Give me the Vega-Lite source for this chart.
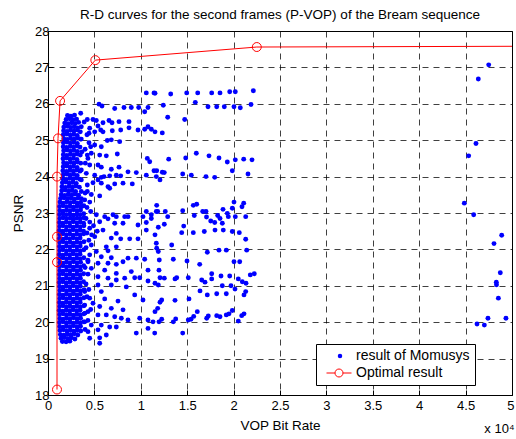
{
"$schema": "https://vega.github.io/schema/vega-lite/v6.json",
"width": 464, "height": 364,
"autosize": {"type": "none"},
"padding": {"left": 48, "top": 31, "right": 4, "bottom": 44},
"background": "white",
"title": {"text": "R-D curves for the second frames (P-VOP) of the Bream sequence", "fontSize": 13.5, "fontWeight": "normal", "font": "Liberation Sans", "color": "#000", "offset": 4},
"config": {"font": "Liberation Sans", "view": {"stroke": "#000", "strokeWidth": 1}},
"datasets": {
"optimal": [
{"rate": 970, "psnr": 18.15}, {"rate": 970, "psnr": 21.65}, {"rate": 970, "psnr": 22.35}, {"rate": 970, "psnr": 24.0},
{"rate": 1080, "psnr": 25.05}, {"rate": 1300, "psnr": 26.08}, {"rate": 5100, "psnr": 27.2}, {"rate": 22500, "psnr": 27.56}, {"rate": 50000, "psnr": 27.58}
],
"momusys": [
{"rate":22123,"psnr":26.36},{"rate":11530,"psnr":26.29},{"rate":13222,"psnr":26.27},{"rate":14946,"psnr":26.30},{"rate":16132,"psnr":26.30},{"rate":17640,"psnr":26.30},{"rate":18535,"psnr":26.30},{"rate":19580,"psnr":26.33},{"rate":20183,"psnr":26.33},{"rate":12425,"psnr":25.96},{"rate":15873,"psnr":26.04},{"rate":17242,"psnr":25.92},{"rate":18179,"psnr":25.92},{"rate":18998,"psnr":25.92},{"rate":20043,"psnr":25.92},{"rate":20722,"psnr":25.89},{"rate":21875,"psnr":25.98},{"rate":12899,"psnr":25.63},{"rate":14731,"psnr":25.57},{"rate":11530,"psnr":25.23},{"rate":12317,"psnr":25.20},{"rate":13007,"psnr":24.48},{"rate":14838,"psnr":24.51},{"rate":15981,"psnr":24.64},{"rate":17349,"psnr":24.57},{"rate":18427,"psnr":24.51},{"rate":19321,"psnr":24.40},{"rate":20183,"psnr":24.46},{"rate":21089,"psnr":24.48},{"rate":21983,"psnr":24.46},{"rate":11713,"psnr":24.16},{"rate":12317,"psnr":24.12},{"rate":12532,"psnr":24.11},{"rate":12069,"psnr":23.91},{"rate":14515,"psnr":24.07},{"rate":15442,"psnr":24.04},{"rate":17026,"psnr":24.00},{"rate":17964,"psnr":23.98},{"rate":19860,"psnr":24.16},{"rate":21552,"psnr":24.07},
{"rate":11713,"psnr":23.21},{"rate":11821,"psnr":23.04},{"rate":12640,"psnr":23.04},{"rate":12899,"psnr":22.90},{"rate":14515,"psnr":23.06},{"rate":15658,"psnr":23.21},{"rate":16024,"psnr":23.24},{"rate":15765,"psnr":22.93},{"rate":16671,"psnr":23.04},{"rate":17026,"psnr":23.04},{"rate":17080,"psnr":22.89},{"rate":18287,"psnr":22.93},{"rate":18858,"psnr":23.10},{"rate":19321,"psnr":22.99},{"rate":19429,"psnr":22.90},{"rate":19860,"psnr":23.13},{"rate":20043,"psnr":23.30},{"rate":20183,"psnr":22.90},{"rate":20905,"psnr":23.17},{"rate":21089,"psnr":23.27},{"rate":21304,"psnr":22.90},
{"rate":17533,"psnr":22.78},{"rate":17964,"psnr":22.74},{"rate":18535,"psnr":22.85},{"rate":18783,"psnr":22.72},{"rate":12532,"psnr":22.69},{"rate":11886,"psnr":22.61},{"rate":14623,"psnr":22.64},{"rate":14408,"psnr":22.46},{"rate":15658,"psnr":22.46},{"rate":16843,"psnr":22.49},{"rate":17996,"psnr":22.53},{"rate":18890,"psnr":22.53},{"rate":19860,"psnr":22.49},{"rate":20614,"psnr":22.46},{"rate":21304,"psnr":22.28},{"rate":11530,"psnr":22.40},{"rate":13330,"psnr":22.12},{"rate":11713,"psnr":22.03},{"rate":11886,"psnr":21.94},{"rate":18427,"psnr":21.98},{"rate":19214,"psnr":21.98},{"rate":17166,"psnr":21.92},{"rate":21412,"psnr":21.98},{"rate":11994,"psnr":21.71},{"rate":13502,"psnr":21.73},{"rate":14979,"psnr":21.68},{"rate":16347,"psnr":21.59},{"rate":20043,"psnr":21.66},{"rate":20658,"psnr":21.66},{"rate":11961,"psnr":21.43},{"rate":12069,"psnr":21.22},{"rate":12532,"psnr":21.21},{"rate":13686,"psnr":21.19},{"rate":13869,"psnr":21.22},{"rate":15119,"psnr":21.22},{"rate":16563,"psnr":21.16},{"rate":16918,"psnr":21.10},{"rate":17640,"psnr":21.19},{"rate":17640,"psnr":21.33},{"rate":18643,"psnr":21.27},{"rate":19580,"psnr":21.27},{"rate":20507,"psnr":21.19},{"rate":20938,"psnr":21.11},{"rate":21337,"psnr":21.07},{"rate":21800,"psnr":21.30},{"rate":22231,"psnr":21.33},{"rate":11886,"psnr":21.02},{"rate":11530,"psnr":21.07},{"rate":16380,"psnr":20.86},{"rate":17166,"psnr":20.75},{"rate":18179,"psnr":20.78},{"rate":18783,"psnr":21.00},{"rate":19214,"psnr":20.78},{"rate":19720,"psnr":21.00},{"rate":20151,"psnr":20.91},{"rate":21121,"psnr":20.75},{"rate":21304,"psnr":20.84},{"rate":12252,"psnr":20.61},{"rate":12069,"psnr":20.55},{"rate":13686,"psnr":20.60},{"rate":15194,"psnr":20.64},{"rate":11821,"psnr":20.38},{"rate":11530,"psnr":20.29},{"rate":12252,"psnr":20.08},{"rate":13502,"psnr":20.01},{"rate":13761,"psnr":20.09},{"rate":15119,"psnr":20.06},{"rate":15410,"psnr":20.08},{"rate":15700,"psnr":20.16},{"rate":16088,"psnr":20.29},{"rate":17101,"psnr":20.11},{"rate":17274,"psnr":20.17},{"rate":18179,"psnr":20.18},{"rate":18535,"psnr":20.15},{"rate":19214,"psnr":20.20},{"rate":19505,"psnr":20.23},{"rate":19860,"psnr":20.32},{"rate":20507,"psnr":20.03},{"rate":20873,"psnr":20.18},{"rate":21121,"psnr":20.23},{"rate":14515,"psnr":19.70},{"rate":11961,"psnr":20.01},
{"rate":10593,"psnr":26.30},{"rate":11423,"psnr":26.30},{"rate":5496,"psnr":25.99},{"rate":5819,"psnr":25.94},{"rate":7188,"psnr":25.87},{"rate":8190,"psnr":25.90},{"rate":8976,"psnr":25.90},{"rate":9774,"psnr":25.90},{"rate":10420,"psnr":25.78},{"rate":10776,"psnr":25.90},{"rate":3524,"psnr":25.74},{"rate":4235,"psnr":25.57},{"rate":4849,"psnr":25.57},{"rate":5205,"psnr":25.54},{"rate":5927,"psnr":25.48},{"rate":6573,"psnr":25.54},{"rate":6897,"psnr":25.48},{"rate":7651,"psnr":25.51},{"rate":8729,"psnr":25.51},{"rate":3588,"psnr":25.37},{"rate":4494,"psnr":25.33},{"rate":5388,"psnr":25.39},{"rate":5679,"psnr":25.28},{"rate":4418,"psnr":25.19},{"rate":5032,"psnr":25.23},{"rate":5927,"psnr":25.23},{"rate":6929,"psnr":25.26},{"rate":7834,"psnr":25.28},{"rate":8729,"psnr":25.34},{"rate":9698,"psnr":25.28},{"rate":10420,"psnr":25.30},{"rate":11132,"psnr":25.30},{"rate":10776,"psnr":25.37},{"rate":3588,"psnr":25.03},{"rate":4418,"psnr":24.93},{"rate":4601,"psnr":24.82},{"rate":5032,"psnr":24.87},{"rate":5744,"psnr":24.82},{"rate":6390,"psnr":24.99},{"rate":6821,"psnr":25.01},{"rate":7726,"psnr":24.96},{"rate":3664,"psnr":24.68},{"rate":4235,"psnr":24.59},{"rate":4666,"psnr":24.64},{"rate":5571,"psnr":24.59},{"rate":6282,"psnr":24.57},{"rate":7468,"psnr":24.62},{"rate":10701,"psnr":24.50},{"rate":10959,"psnr":24.41},{"rate":4020,"psnr":24.37},{"rate":4494,"psnr":24.32},{"rate":5388,"psnr":24.32},{"rate":5744,"psnr":24.26},{"rate":6821,"psnr":24.20},{"rate":7651,"psnr":24.26},{"rate":3588,"psnr":24.18},{"rate":4127,"psnr":24.09},{"rate":5032,"psnr":24.04},{"rate":5744,"psnr":23.98},{"rate":6035,"psnr":24.00},{"rate":6649,"psnr":24.02},{"rate":7360,"psnr":24.04},{"rate":7834,"psnr":24.02},{"rate":8621,"psnr":24.13},{"rate":9515,"psnr":24.11},{"rate":10593,"psnr":24.04},{"rate":11423,"psnr":24.16},{"rate":11670,"psnr":24.00},{"rate":3588,"psnr":23.91},{"rate":4235,"psnr":23.77},{"rate":4849,"psnr":23.83},{"rate":5388,"psnr":23.91},{"rate":5744,"psnr":23.82},{"rate":6466,"psnr":23.72},{"rate":7188,"psnr":23.80},{"rate":8082,"psnr":23.82},{"rate":9084,"psnr":23.80},{"rate":6649,"psnr":23.68},{"rate":3588,"psnr":23.59},{"rate":4235,"psnr":23.59},{"rate":4666,"psnr":23.51},{"rate":5571,"psnr":23.47},{"rate":3955,"psnr":23.36},{"rate":3588,"psnr":23.17},{"rate":4601,"psnr":23.04},{"rate":5205,"psnr":22.95},{"rate":6110,"psnr":22.90},{"rate":7004,"psnr":22.95},{"rate":7360,"psnr":22.90},{"rate":8265,"psnr":22.90},{"rate":10593,"psnr":23.04},{"rate":11132,"psnr":22.95},{"rate":11670,"psnr":23.04},
{"rate":8621,"psnr":22.90},{"rate":10237,"psnr":22.90},{"rate":5571,"psnr":22.76},{"rate":6466,"psnr":22.84},{"rate":7188,"psnr":22.72},{"rate":8082,"psnr":22.72},{"rate":9698,"psnr":22.67},{"rate":10593,"psnr":22.74},{"rate":11132,"psnr":22.85},{"rate":4494,"psnr":22.58},{"rate":5927,"psnr":22.53},{"rate":7360,"psnr":22.44},{"rate":10593,"psnr":22.53},{"rate":5032,"psnr":22.35},{"rate":6821,"psnr":22.31},{"rate":7834,"psnr":22.29},{"rate":8804,"psnr":22.29},{"rate":9698,"psnr":22.29},{"rate":11670,"psnr":22.17},{"rate":4666,"psnr":22.12},{"rate":6282,"psnr":22.07},{"rate":7360,"psnr":22.07},{"rate":5205,"psnr":21.94},{"rate":6466,"psnr":21.96},{"rate":4494,"psnr":21.85},{"rate":5744,"psnr":21.80},{"rate":6821,"psnr":21.77},{"rate":8621,"psnr":21.76},{"rate":9515,"psnr":21.76},{"rate":10420,"psnr":21.73},{"rate":4310,"psnr":21.66},{"rate":5388,"psnr":21.62},{"rate":6466,"psnr":21.62},{"rate":7360,"psnr":21.59},{"rate":8082,"psnr":21.66},{"rate":4666,"psnr":21.48},{"rate":6110,"psnr":21.43},{"rate":7360,"psnr":21.34},{"rate":8976,"psnr":21.39},{"rate":10776,"psnr":21.43},{"rate":4310,"psnr":21.32},{"rate":5388,"psnr":21.25},{"rate":6466,"psnr":21.21},{"rate":7360,"psnr":21.16},{"rate":8265,"psnr":21.21},{"rate":9343,"psnr":21.22},{"rate":9882,"psnr":21.22},{"rate":10776,"psnr":21.13},{"rate":5388,"psnr":21.02},{"rate":6821,"psnr":21.02},{"rate":8438,"psnr":20.97},{"rate":3955,"psnr":20.84},{"rate":5744,"psnr":20.84},{"rate":9343,"psnr":20.75},{"rate":4494,"psnr":20.66},{"rate":6110,"psnr":20.64},{"rate":7543,"psnr":20.58},{"rate":10237,"psnr":20.61},{"rate":3955,"psnr":20.47},{"rate":4849,"psnr":20.52},{"rate":5571,"psnr":20.43},{"rate":6821,"psnr":20.38},{"rate":8082,"psnr":20.34},{"rate":4310,"psnr":20.29},{"rate":5388,"psnr":20.20},{"rate":6282,"psnr":20.20},{"rate":7188,"psnr":20.15},{"rate":7899,"psnr":20.11},{"rate":8621,"psnr":20.06},{"rate":9882,"psnr":20.11},{"rate":10776,"psnr":20.06},{"rate":11315,"psnr":20.01},{"rate":3955,"psnr":20.01},{"rate":4666,"psnr":19.92},{"rate":5744,"psnr":19.92},{"rate":6649,"psnr":19.87},{"rate":7360,"psnr":19.87},{"rate":9515,"psnr":19.70},{"rate":10776,"psnr":19.83},{"rate":11498,"psnr":19.70},{"rate":4310,"psnr":19.74},{"rate":5388,"psnr":19.79},{"rate":4494,"psnr":19.56},{"rate":5571,"psnr":19.57},{"rate":6282,"psnr":19.65},{"rate":5571,"psnr":19.42},
{"rate":4100,"psnr":22.85},{"rate":4500,"psnr":22.75},{"rate":4900,"psnr":22.65},{"rate":4200,"psnr":22.45},{"rate":4700,"psnr":22.40},{"rate":5300,"psnr":22.50},{"rate":4400,"psnr":22.25},{"rate":4100,"psnr":22.05},{"rate":4300,"psnr":21.70},{"rate":4000,"psnr":21.50},{"rate":4100,"psnr":21.05},{"rate":4400,"psnr":20.90},{"rate":4200,"psnr":20.70},{"rate":4600,"psnr":20.35},{"rate":4000,"psnr":20.25},{"rate":4300,"psnr":20.05},{"rate":4000,"psnr":19.80},{"rate":4200,"psnr":23.15},{"rate":4500,"psnr":23.30},{"rate":4000,"psnr":23.55},{"rate":4300,"psnr":24.50},{"rate":4000,"psnr":24.75},{"rate":4200,"psnr":25.15},{"rate":3900,"psnr":25.50},
{"rate":47490,"psnr":27.07},{"rate":46370,"psnr":26.68},{"rate":46120,"psnr":24.91},{"rate":45330,"psnr":24.57},{"rate":44860,"psnr":23.27},{"rate":45870,"psnr":22.95},{"rate":48890,"psnr":22.39},{"rate":48060,"psnr":22.16},{"rate":48740,"psnr":21.36},{"rate":48310,"psnr":21.10},{"rate":48330,"psnr":21.03},{"rate":48530,"psnr":20.66},{"rate":47410,"psnr":20.11},{"rate":49350,"psnr":20.11},{"rate":46230,"psnr":19.95},{"rate":47020,"psnr":19.92},
{"rate":2100,"psnr":25.68},{"rate":2470,"psnr":25.66},{"rate":2860,"psnr":25.69},
{"rate":1950,"psnr":25.57},{"rate":2340,"psnr":25.59},{"rate":2700,"psnr":25.56},{"rate":3080,"psnr":25.58},
{"rate":1800,"psnr":25.47},{"rate":2190,"psnr":25.45},{"rate":2560,"psnr":25.48},{"rate":2940,"psnr":25.46},{"rate":3300,"psnr":25.49},
{"rate":1700,"psnr":25.36},{"rate":2080,"psnr":25.38},{"rate":2450,"psnr":25.35},{"rate":2830,"psnr":25.37},{"rate":3200,"psnr":25.34},
{"rate":1680,"psnr":25.26},{"rate":2050,"psnr":25.24},{"rate":2420,"psnr":25.27},{"rate":2800,"psnr":25.25},{"rate":3170,"psnr":25.28},{"rate":3480,"psnr":25.23},
{"rate":1650,"psnr":25.15},{"rate":2030,"psnr":25.17},{"rate":2400,"psnr":25.14},{"rate":2780,"psnr":25.16},{"rate":3150,"psnr":25.13},
{"rate":1700,"psnr":25.04},{"rate":2070,"psnr":25.02},{"rate":2440,"psnr":25.05},{"rate":2820,"psnr":25.03},{"rate":3190,"psnr":25.06},{"rate":3500,"psnr":25.03},
{"rate":1660,"psnr":24.93},{"rate":2040,"psnr":24.95},{"rate":2410,"psnr":24.92},{"rate":2790,"psnr":24.94},{"rate":3160,"psnr":24.91},
{"rate":1640,"psnr":24.82},{"rate":2010,"psnr":24.80},{"rate":2390,"psnr":24.83},{"rate":2760,"psnr":24.81},{"rate":3140,"psnr":24.84},{"rate":3450,"psnr":24.81},
{"rate":1690,"psnr":24.71},{"rate":2060,"psnr":24.73},{"rate":2430,"psnr":24.70},{"rate":2810,"psnr":24.72},{"rate":3180,"psnr":24.69},
{"rate":1650,"psnr":24.60},{"rate":2020,"psnr":24.58},{"rate":2400,"psnr":24.61},{"rate":2770,"psnr":24.59},{"rate":3150,"psnr":24.62},{"rate":3480,"psnr":24.59},
{"rate":1620,"psnr":24.49},{"rate":2000,"psnr":24.51},{"rate":2370,"psnr":24.48},{"rate":2750,"psnr":24.50},{"rate":3120,"psnr":24.47},
{"rate":1680,"psnr":24.38},{"rate":2050,"psnr":24.36},{"rate":2430,"psnr":24.39},{"rate":2800,"psnr":24.37},{"rate":3170,"psnr":24.40},{"rate":3520,"psnr":24.37},
{"rate":1640,"psnr":24.27},{"rate":2010,"psnr":24.29},{"rate":2390,"psnr":24.26},{"rate":2760,"psnr":24.28},{"rate":3140,"psnr":24.25},
{"rate":1600,"psnr":24.16},{"rate":1980,"psnr":24.14},{"rate":2350,"psnr":24.17},{"rate":2730,"psnr":24.15},{"rate":3100,"psnr":24.18},{"rate":3450,"psnr":24.15},
{"rate":1650,"psnr":24.05},{"rate":2030,"psnr":24.07},{"rate":2400,"psnr":24.04},{"rate":2780,"psnr":24.06},{"rate":3150,"psnr":24.03},
{"rate":1580,"psnr":23.94},{"rate":1960,"psnr":23.92},{"rate":2330,"psnr":23.95},{"rate":2710,"psnr":23.93},{"rate":3080,"psnr":23.96},{"rate":3420,"psnr":23.93},
{"rate":1550,"psnr":23.83},{"rate":1930,"psnr":23.85},{"rate":2300,"psnr":23.82},{"rate":2680,"psnr":23.84},{"rate":3050,"psnr":23.81},
{"rate":1500,"psnr":23.72},{"rate":1880,"psnr":23.70},{"rate":2260,"psnr":23.73},{"rate":2640,"psnr":23.71},{"rate":3010,"psnr":23.74},{"rate":3380,"psnr":23.71},
{"rate":1480,"psnr":23.61},{"rate":1850,"psnr":23.63},{"rate":2230,"psnr":23.60},{"rate":2600,"psnr":23.62},{"rate":2980,"psnr":23.59},
{"rate":1420,"psnr":23.50},{"rate":1800,"psnr":23.48},{"rate":2170,"psnr":23.51},{"rate":2550,"psnr":23.49},{"rate":2920,"psnr":23.52},{"rate":3300,"psnr":23.49},
{"rate":1350,"psnr":23.40},{"rate":1730,"psnr":23.42},{"rate":2100,"psnr":23.39},{"rate":2480,"psnr":23.41},{"rate":2860,"psnr":23.38},{"rate":3230,"psnr":23.41},{"rate":3600,"psnr":23.39},
{"rate":1280,"psnr":23.30},{"rate":1650,"psnr":23.27},{"rate":2030,"psnr":23.31},{"rate":2400,"psnr":23.28},{"rate":2780,"psnr":23.30},{"rate":3150,"psnr":23.27},{"rate":3530,"psnr":23.29},
{"rate":1230,"psnr":23.18},{"rate":1610,"psnr":23.20},{"rate":1980,"psnr":23.17},{"rate":2360,"psnr":23.19},{"rate":2730,"psnr":23.16},{"rate":3110,"psnr":23.19},{"rate":3480,"psnr":23.18},{"rate":3860,"psnr":23.20},
{"rate":1260,"psnr":23.07},{"rate":1640,"psnr":23.05},{"rate":2010,"psnr":23.08},{"rate":2390,"psnr":23.06},{"rate":2760,"psnr":23.09},{"rate":3140,"psnr":23.06},{"rate":3510,"psnr":23.08},
{"rate":1220,"psnr":22.96},{"rate":1600,"psnr":22.98},{"rate":1970,"psnr":22.95},{"rate":2350,"psnr":22.97},{"rate":2720,"psnr":22.94},{"rate":3100,"psnr":22.97},{"rate":3470,"psnr":22.95},{"rate":3850,"psnr":22.98},
{"rate":1250,"psnr":22.85},{"rate":1630,"psnr":22.87},{"rate":2000,"psnr":22.84},{"rate":2380,"psnr":22.86},{"rate":2750,"psnr":22.83},{"rate":3130,"psnr":22.86},{"rate":3500,"psnr":22.84},{"rate":3880,"psnr":22.87},
{"rate":1210,"psnr":22.74},{"rate":1590,"psnr":22.72},{"rate":1960,"psnr":22.75},{"rate":2340,"psnr":22.73},{"rate":2710,"psnr":22.76},{"rate":3090,"psnr":22.73},{"rate":3460,"psnr":22.75},{"rate":3840,"psnr":22.72},
{"rate":1240,"psnr":22.63},{"rate":1620,"psnr":22.65},{"rate":1990,"psnr":22.62},{"rate":2370,"psnr":22.64},{"rate":2740,"psnr":22.61},{"rate":3120,"psnr":22.64},{"rate":3490,"psnr":22.62},{"rate":3870,"psnr":22.65},
{"rate":1200,"psnr":22.52},{"rate":1580,"psnr":22.50},{"rate":1950,"psnr":22.53},{"rate":2330,"psnr":22.51},{"rate":2700,"psnr":22.54},{"rate":3080,"psnr":22.51},{"rate":3450,"psnr":22.53},{"rate":3830,"psnr":22.50},
{"rate":1230,"psnr":22.41},{"rate":1610,"psnr":22.43},{"rate":1980,"psnr":22.40},{"rate":2360,"psnr":22.42},{"rate":2730,"psnr":22.39},{"rate":3110,"psnr":22.42},{"rate":3480,"psnr":22.40},{"rate":3860,"psnr":22.43},
{"rate":1210,"psnr":22.30},{"rate":1590,"psnr":22.28},{"rate":1960,"psnr":22.31},{"rate":2340,"psnr":22.29},{"rate":2710,"psnr":22.32},{"rate":3090,"psnr":22.29},{"rate":3460,"psnr":22.31},
{"rate":1250,"psnr":22.19},{"rate":1630,"psnr":22.21},{"rate":2000,"psnr":22.18},{"rate":2380,"psnr":22.20},{"rate":2750,"psnr":22.17},{"rate":3130,"psnr":22.20},{"rate":3500,"psnr":22.18},{"rate":3880,"psnr":22.21},
{"rate":1220,"psnr":22.08},{"rate":1600,"psnr":22.06},{"rate":1970,"psnr":22.09},{"rate":2350,"psnr":22.07},{"rate":2720,"psnr":22.10},{"rate":3100,"psnr":22.07},{"rate":3470,"psnr":22.09},
{"rate":1240,"psnr":21.97},{"rate":1620,"psnr":21.99},{"rate":1990,"psnr":21.96},{"rate":2370,"psnr":21.98},{"rate":2740,"psnr":21.95},{"rate":3120,"psnr":21.98},{"rate":3490,"psnr":21.96},{"rate":3870,"psnr":21.99},
{"rate":1200,"psnr":21.86},{"rate":1580,"psnr":21.84},{"rate":1950,"psnr":21.87},{"rate":2330,"psnr":21.85},{"rate":2700,"psnr":21.88},{"rate":3080,"psnr":21.85},{"rate":3450,"psnr":21.87},
{"rate":1230,"psnr":21.75},{"rate":1610,"psnr":21.77},{"rate":1980,"psnr":21.74},{"rate":2360,"psnr":21.76},{"rate":2730,"psnr":21.73},{"rate":3110,"psnr":21.76},{"rate":3480,"psnr":21.74},{"rate":3860,"psnr":21.77},
{"rate":1260,"psnr":21.64},{"rate":1640,"psnr":21.62},{"rate":2010,"psnr":21.65},{"rate":2390,"psnr":21.63},{"rate":2760,"psnr":21.66},{"rate":3140,"psnr":21.63},{"rate":3510,"psnr":21.65},
{"rate":1220,"psnr":21.53},{"rate":1600,"psnr":21.55},{"rate":1970,"psnr":21.52},{"rate":2350,"psnr":21.54},{"rate":2720,"psnr":21.51},{"rate":3100,"psnr":21.54},{"rate":3470,"psnr":21.52},{"rate":3850,"psnr":21.55},
{"rate":1250,"psnr":21.42},{"rate":1630,"psnr":21.40},{"rate":2000,"psnr":21.43},{"rate":2380,"psnr":21.41},{"rate":2750,"psnr":21.44},{"rate":3130,"psnr":21.41},{"rate":3500,"psnr":21.43},
{"rate":1210,"psnr":21.31},{"rate":1590,"psnr":21.33},{"rate":1960,"psnr":21.30},{"rate":2340,"psnr":21.32},{"rate":2710,"psnr":21.29},{"rate":3090,"psnr":21.32},{"rate":3460,"psnr":21.30},{"rate":3840,"psnr":21.33},
{"rate":1240,"psnr":21.20},{"rate":1620,"psnr":21.18},{"rate":1990,"psnr":21.21},{"rate":2370,"psnr":21.19},{"rate":2740,"psnr":21.22},{"rate":3120,"psnr":21.19},{"rate":3490,"psnr":21.21},
{"rate":1200,"psnr":21.09},{"rate":1580,"psnr":21.11},{"rate":1950,"psnr":21.08},{"rate":2330,"psnr":21.10},{"rate":2700,"psnr":21.07},{"rate":3080,"psnr":21.10},{"rate":3450,"psnr":21.08},{"rate":3830,"psnr":21.11},
{"rate":1230,"psnr":20.98},{"rate":1610,"psnr":20.96},{"rate":1980,"psnr":20.99},{"rate":2360,"psnr":20.97},{"rate":2730,"psnr":21.00},{"rate":3110,"psnr":20.97},{"rate":3480,"psnr":20.99},
{"rate":1260,"psnr":20.87},{"rate":1640,"psnr":20.89},{"rate":2010,"psnr":20.86},{"rate":2390,"psnr":20.88},{"rate":2760,"psnr":20.85},{"rate":3140,"psnr":20.88},{"rate":3510,"psnr":20.86},{"rate":3890,"psnr":20.89},
{"rate":1220,"psnr":20.76},{"rate":1600,"psnr":20.74},{"rate":1970,"psnr":20.77},{"rate":2350,"psnr":20.75},{"rate":2720,"psnr":20.78},{"rate":3100,"psnr":20.75},{"rate":3470,"psnr":20.77},
{"rate":1250,"psnr":20.65},{"rate":1630,"psnr":20.67},{"rate":2000,"psnr":20.64},{"rate":2380,"psnr":20.66},{"rate":2750,"psnr":20.63},{"rate":3130,"psnr":20.66},{"rate":3500,"psnr":20.64},{"rate":3880,"psnr":20.67},
{"rate":1210,"psnr":20.54},{"rate":1590,"psnr":20.52},{"rate":1960,"psnr":20.55},{"rate":2340,"psnr":20.53},{"rate":2710,"psnr":20.56},{"rate":3090,"psnr":20.53},{"rate":3460,"psnr":20.55},
{"rate":1240,"psnr":20.43},{"rate":1620,"psnr":20.45},{"rate":1990,"psnr":20.42},{"rate":2370,"psnr":20.44},{"rate":2740,"psnr":20.41},{"rate":3120,"psnr":20.44},{"rate":3490,"psnr":20.42},{"rate":3870,"psnr":20.45},
{"rate":1200,"psnr":20.32},{"rate":1580,"psnr":20.30},{"rate":1950,"psnr":20.33},{"rate":2330,"psnr":20.31},{"rate":2700,"psnr":20.34},{"rate":3080,"psnr":20.31},{"rate":3450,"psnr":20.33},
{"rate":1230,"psnr":20.21},{"rate":1610,"psnr":20.23},{"rate":1980,"psnr":20.20},{"rate":2360,"psnr":20.22},{"rate":2730,"psnr":20.19},{"rate":3110,"psnr":20.22},{"rate":3480,"psnr":20.20},{"rate":3860,"psnr":20.23},
{"rate":1260,"psnr":20.10},{"rate":1640,"psnr":20.08},{"rate":2010,"psnr":20.11},{"rate":2390,"psnr":20.09},{"rate":2760,"psnr":20.12},{"rate":3140,"psnr":20.09},{"rate":3510,"psnr":20.11},
{"rate":1220,"psnr":19.99},{"rate":1600,"psnr":20.01},{"rate":1970,"psnr":19.98},{"rate":2350,"psnr":20.00},{"rate":2720,"psnr":19.97},{"rate":3100,"psnr":20.00},{"rate":3470,"psnr":19.98},{"rate":3850,"psnr":20.01},
{"rate":1250,"psnr":19.88},{"rate":1630,"psnr":19.86},{"rate":2000,"psnr":19.89},{"rate":2380,"psnr":19.87},{"rate":2750,"psnr":19.90},{"rate":3130,"psnr":19.87},{"rate":3500,"psnr":19.89},
{"rate":1280,"psnr":19.77},{"rate":1660,"psnr":19.79},{"rate":2030,"psnr":19.76},{"rate":2410,"psnr":19.78},{"rate":2780,"psnr":19.75},{"rate":3160,"psnr":19.78},{"rate":3530,"psnr":19.76},
{"rate":1330,"psnr":19.66},{"rate":1710,"psnr":19.64},{"rate":2080,"psnr":19.67},{"rate":2460,"psnr":19.65},{"rate":2830,"psnr":19.68},{"rate":3210,"psnr":19.65},
{"rate":1400,"psnr":19.56},{"rate":1780,"psnr":19.58},{"rate":2150,"psnr":19.55},{"rate":2530,"psnr":19.57},{"rate":2900,"psnr":19.54},
{"rate":1550,"psnr":19.47},{"rate":1950,"psnr":19.46},{"rate":2350,"psnr":19.48}
]
},
"encoding": {
 "x": {"field": "rate", "type": "quantitative", "scale": {"domain": [0, 50000], "nice": false, "zero": false},
  "axis": {"values": [0,5000,10000,15000,20000,25000,30000,35000,40000,45000,50000], "labelExpr": "datum.value == 50000 ? ['5', 'x 10⁴'] : datum.value/10000", "labelAlign": {"condition": {"test": "datum.value == 50000", "value": "right"}, "value": "center"}, "labelOffset": {"condition": {"test": "datum.value == 50000", "value": 2}, "value": 0}, "labelLineHeight": 23, "title": "VOP Bit Rate", "titleY": 23, "titleBaseline": "top", "grid": true, "gridDash": [6,5], "gridColor": "#000", "gridOpacity": 0.75, "domain": false, "ticks": true, "tickSize": -5, "tickColor": "#000", "labelFontSize": 13, "labelColor": "#000", "labelPadding": 9, "labelFlush": false, "labelOverlap": false, "labelBound": false, "titleFontSize": 13.5, "titleFontWeight": "normal", "titleColor": "#000"}},
 "y": {"field": "psnr", "type": "quantitative", "scale": {"domain": [18, 28], "nice": false, "zero": false},
  "axis": {"values": [18,19,20,21,22,23,24,25,26,27,28], "title": "PSNR", "grid": true, "gridDash": [6,5], "gridColor": "#000", "gridOpacity": 0.75, "domain": false, "ticks": true, "tickSize": -5, "tickColor": "#000", "labelFontSize": 13, "labelColor": "#000", "labelPadding": 4, "labelFlush": false, "labelOverlap": false, "titleFontSize": 13.5, "titleFontWeight": "normal", "titleColor": "#000", "titlePadding": 9}}
},
"layer": [
{"data": {"name": "momusys"},
 "mark": {"type": "point", "filled": true, "shape": "circle", "size": 24, "opacity": 1},
 "encoding": {
  "color": {"datum": "result of Momusys", "type": "nominal",
   "scale": {"domain": ["result of Momusys"], "range": ["#0000ff"]},
   "legend": {"title": " ", "titleOrient": "bottom", "titleFontSize": 13.5, "titlePadding": 3, "orient": "none", "legendX": 268, "legendY": 313, "direction": "vertical", "fillColor": "#fff", "strokeColor": "#000", "padding": 5, "cornerRadius": 0, "symbolType": "circle", "symbolSize": 20, "symbolOffset": 12, "labelOffset": 9, "labelFontSize": 14, "labelColor": "#000", "symbolOpacity": 1}}}},
{"data": {"name": "optimal"},
 "mark": {"type": "line", "color": "#ff0000", "strokeWidth": 1},
 "encoding": {"order": {"field": "psnr", "type": "quantitative"}}},
{"data": {"name": "optimal"},
 "transform": [{"filter": "datum.rate < 50000"}],
 "mark": {"type": "point", "shape": "circle", "filled": false, "size": 80, "strokeWidth": 1, "opacity": 1},
 "encoding": {
  "stroke": {"datum": "Optimal result", "type": "nominal",
   "scale": {"domain": ["Optimal result"], "range": ["#ff0000"]},
   "legend": {"title": null, "orient": "none", "legendX": 268, "legendY": 330, "direction": "vertical", "padding": 5, "symbolType": "M-2.5,0L-0.8,0M0.8,0L2.5,0M0.8,0A0.8,0.8 0 1,1 -0.8,0A0.8,0.8 0 1,1 0.8,0", "symbolSize": 100, "symbolStrokeWidth": 1, "symbolOffset": 11, "labelOffset": 10, "labelFontSize": 14, "labelColor": "#000", "symbolOpacity": 1}}}}
]
}
